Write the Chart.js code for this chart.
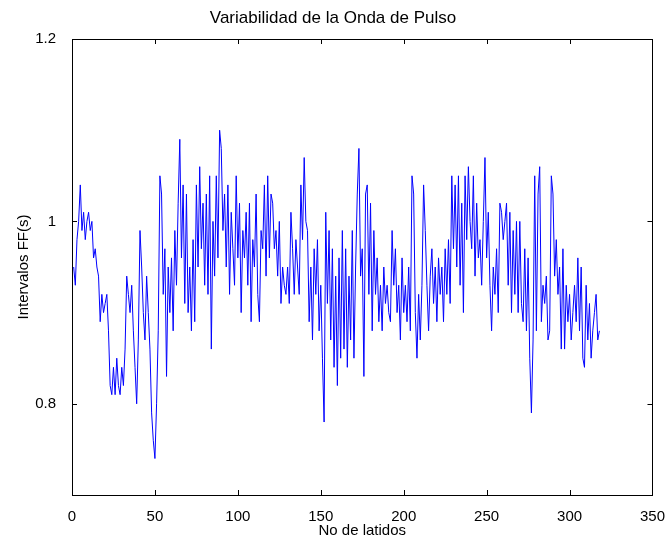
<!DOCTYPE html>
<html>
<head>
<meta charset="utf-8">
<script src="https://cdn.jsdelivr.net/npm/chart.js@4"></script>
<style>
  html, body { margin: 0; padding: 0; background: #fff; }
  #wrap { width: 670px; height: 544px; }
</style>
</head>
<body>
<div id="wrap"><canvas id="pulseChart"></canvas></div>
<script>
// intervalos FF (s), latido 1..318
const intervals = [
  0.95, 0.93, 0.98, 1.00, 1.04, 0.99, 1.01, 0.98, 1.00, 1.01,
  0.99, 1.00, 0.96, 0.97, 0.95, 0.94, 0.89, 0.92, 0.90, 0.91,
  0.92, 0.88, 0.82, 0.81, 0.84, 0.81, 0.85, 0.82, 0.81, 0.84,
  0.82, 0.86, 0.94, 0.92, 0.90, 0.93, 0.88, 0.84, 0.80, 0.87,
  0.99, 0.95, 0.90, 0.87, 0.94, 0.90, 0.86, 0.79, 0.76, 0.74,
  0.80, 0.88, 1.05, 1.03, 0.92, 0.97, 0.83, 0.95, 0.90, 0.96,
  0.88, 0.99, 0.93, 1.02, 1.09, 0.96, 1.04, 0.91, 1.03, 0.90,
  0.95, 0.88, 0.98, 0.89, 1.04, 0.95, 1.06, 0.97, 1.02, 0.93,
  1.03, 0.92, 1.05, 0.86, 1.00, 0.94, 1.05, 0.96, 1.10, 1.08,
  0.99, 1.03, 0.95, 1.04, 0.92, 1.01, 0.97, 0.93, 1.05, 0.96,
  1.02, 0.90, 0.99, 0.96, 1.01, 0.93, 1.02, 0.89, 0.98, 0.95,
  1.03, 0.92, 0.89, 0.99, 0.97, 1.04, 0.94, 1.05, 0.96, 1.03,
  1.02, 0.97, 0.99, 0.94, 1.00, 0.91, 0.95, 0.93, 0.92, 0.95,
  0.91, 1.01, 0.97, 0.92, 0.98, 0.95, 0.92, 1.04, 0.98, 1.07,
  1.00, 0.99, 0.89, 0.95, 0.87, 0.97, 0.92, 0.98, 0.88, 0.93,
  0.85, 0.78, 1.01, 0.91, 0.99, 0.87, 0.97, 0.84, 0.94, 0.82,
  0.96, 0.85, 0.99, 0.86, 0.97, 0.84, 0.94, 0.87, 0.99, 0.85,
  0.95, 1.03, 1.08, 0.94, 0.97, 0.83, 1.03, 1.04, 0.92, 1.02,
  0.88, 0.99, 0.92, 0.96, 0.89, 0.93, 0.88, 0.95, 0.91, 0.93,
  0.90, 0.89, 0.99, 0.93, 0.97, 0.90, 0.93, 0.87, 0.96, 0.90,
  0.93, 0.89, 0.95, 0.88, 1.05, 1.03, 0.90, 0.85, 0.92, 0.87,
  0.93, 1.04, 0.99, 0.93, 0.88, 0.94, 0.97, 0.91, 0.95, 0.89,
  0.96, 0.92, 0.95, 0.89, 0.97, 0.92, 0.98, 0.91, 1.05, 0.97,
  1.04, 0.95, 1.05, 0.93, 1.02, 0.90, 1.05, 0.98, 1.06, 1.00,
  0.97, 1.05, 0.94, 1.02, 0.96, 0.98, 0.93, 1.00, 1.07, 0.96,
  1.01, 0.93, 0.88, 0.95, 0.92, 0.97, 0.90, 1.02, 1.01, 0.98,
  1.00, 1.02, 0.93, 1.01, 0.90, 0.99, 0.92, 1.00, 0.90, 1.00,
  0.91, 0.89, 0.97, 0.88, 0.96, 0.85, 0.79, 0.87, 1.05, 0.88,
  1.03, 1.06, 0.89, 0.93, 0.91, 0.94, 0.87, 0.88, 1.05, 1.03,
  0.94, 0.98, 0.92, 0.95, 0.86, 0.97, 0.86, 0.93, 0.89, 0.92,
  0.87, 0.90, 0.93, 0.89, 0.96, 0.88, 0.95, 0.85, 0.84, 0.93,
  0.87, 0.91, 0.85, 0.88, 0.90, 0.92, 0.87, 0.88
];
const xTicks = [0, 50, 100, 150, 200, 250, 300, 350];
const yTicks = [0.8, 1.0, 1.2];

const FONT = "'Liberation Sans', Arial, sans-serif";

// caja y marcas hacia dentro, estilo MATLAB
const boxPlugin = {
  id: 'matlabBox',
  afterDatasetsDraw(chart) {
    const { ctx, chartArea: a, scales } = chart;
    const len = 5;
    ctx.save();
    ctx.strokeStyle = '#000';
    ctx.lineWidth = 1;
    ctx.beginPath();
    xTicks.forEach(t => {
      const px = Math.round(scales.x.getPixelForValue(t)) + 0.5;
      ctx.moveTo(px, a.bottom); ctx.lineTo(px, a.bottom - len);
      ctx.moveTo(px, a.top); ctx.lineTo(px, a.top + len);
    });
    yTicks.forEach(t => {
      const py = Math.round(scales.y.getPixelForValue(t)) + 0.5;
      ctx.moveTo(a.left, py); ctx.lineTo(a.left + len, py);
      ctx.moveTo(a.right, py); ctx.lineTo(a.right - len, py);
    });
    ctx.stroke();
    ctx.strokeRect(Math.round(a.left) + 0.5, Math.round(a.top) + 0.5,
      Math.round(a.right - a.left), Math.round(a.bottom - a.top));
    ctx.restore();
  }
};

new Chart(document.getElementById('pulseChart'), {
  type: 'line',
  data: {
    datasets: [{
      data: intervals.map((v, i) => ({ x: i + 1, y: v })),
      borderColor: '#0000ff',
      borderWidth: 1,
      pointRadius: 0,
      tension: 0,
      fill: false
    }]
  },
  options: {
    responsive: true,
    maintainAspectRatio: false,
    animation: false,
    layout: { padding: { left: 11, right: 15, top: 0, bottom: 0 } },
    plugins: {
      legend: { display: false },
      tooltip: { enabled: false },
      title: {
        display: true,
        text: 'Variabilidad de la Onda de Pulso',
        color: '#000',
        font: { family: FONT, size: 17, weight: 'normal' },
        padding: { top: 8, bottom: 10.6 }
      }
    },
    scales: {
      x: {
        type: 'linear',
        min: 0, max: 350,
        afterBuildTicks: s => { s.ticks = xTicks.map(v => ({ value: v })); },
        afterFit: s => { s.height = 49; },
        grid: { display: false },
        border: { display: false },
        ticks: { color: '#000', font: { family: FONT, size: 15 }, padding: 5, maxRotation: 0 },
        title: { display: true, text: 'No de latidos', color: '#000', font: { family: FONT, size: 15 }, padding: { top: 2 } }
      },
      y: {
        min: 0.7, max: 1.2,
        afterBuildTicks: s => { s.ticks = yTicks.map(v => ({ value: v })); },
        afterFit: s => { s.width = 61; },
        grid: { display: false },
        border: { display: false },
        ticks: {
          color: '#000', font: { family: FONT, size: 15 }, padding: 8,
          callback: v => String(+v.toFixed(1))
        },
        title: { display: true, text: 'Intervalos FF(s)', color: '#000', font: { family: FONT, size: 15 }, padding: { bottom: 4 } }
      }
    }
  },
  plugins: [boxPlugin]
});
</script>
</body>
</html>
